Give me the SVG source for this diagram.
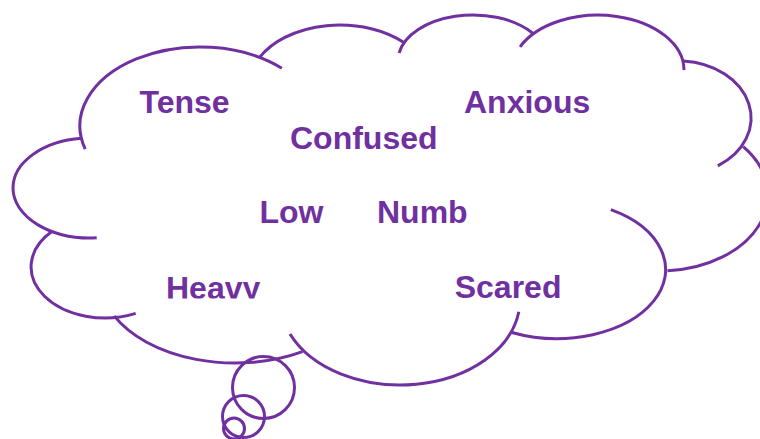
<svg xmlns="http://www.w3.org/2000/svg" width="760" height="439" viewBox="0 0 760 439">
<style>
.ln{fill:none;stroke:#7030A0;stroke-width:3;stroke-linecap:butt}
.w{font-family:"Liberation Sans",Arial,sans-serif;font-weight:bold;font-size:32px;fill:#7030A0}
</style>
<defs>
<clipPath id="cutHeavy"><rect x="150" y="260" width="130" height="38.5"/></clipPath>
</defs>
<rect width="760" height="439" fill="#ffffff"/>
<g id="cloud">
<path class="ln" d="M85.2 149.1 A120 79 0 0 1 281.8 68.2"/>
<path class="ln" d="M259.8 57.2 A90 59 0 0 1 404.7 43"/>
<path class="ln" d="M399.1 53 A75 46 0 0 1 532.5 33"/>
<path class="ln" d="M520.1 46.8 A86 55 0 0 1 684 70"/>
<path class="ln" d="M683.1 61.1 A73 57 0 0 1 717.8 165.8"/>
<path class="ln" d="M743.2 146.6 A108 76 0 0 1 667.5 270.8"/>
<path class="ln" d="M610.8 209.7 A109 69 0 0 1 511.9 332.5"/>
<path class="ln" d="M290 334 A120 85 0 0 0 518.8 311.8"/>
<path class="ln" d="M114.2 315.9 A135 85 0 0 0 302.5 351.6"/>
<path class="ln" d="M52.2 231.3 A74 51 0 0 0 135.7 313.4"/>
<path class="ln" d="M81.7 138.3 A77 50 0 0 0 13 188 A77 50 0 0 0 96.7 237.8"/>
</g>
<g id="tail">
<circle class="ln" cx="263.5" cy="387.5" r="31"/>
<circle class="ln" cx="243.5" cy="416.5" r="21"/>
<circle class="ln" cx="234" cy="428.5" r="10.5"/>
</g>
<g id="word-tense"><text class="w" x="139.5" y="113">Tense</text></g>
<g id="word-confused"><text class="w" x="290" y="149">Confused</text></g>
<g id="word-anxious"><text class="w" x="464" y="113">Anxious</text></g>
<g id="word-low"><text class="w" x="259.5" y="223">Low</text></g>
<g id="word-numb"><text class="w" x="377" y="223">Numb</text></g>
<g id="word-heavy"><text class="w" x="166" y="298.5" clip-path="url(#cutHeavy)">Heavy</text></g>
<g id="word-scared"><text class="w" x="454.7" y="298">Scared</text></g>
</svg>
